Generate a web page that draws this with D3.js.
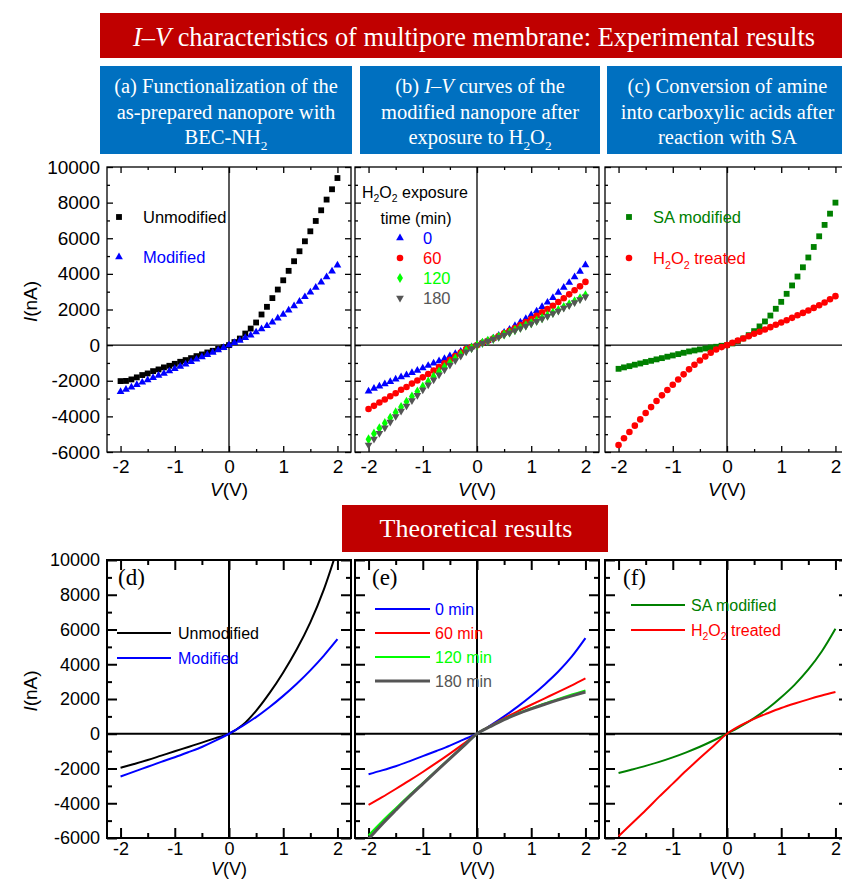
<!DOCTYPE html>
<html>
<head>
<meta charset="utf-8">
<script src="https://cdn.jsdelivr.net/npm/d3@7"></script>
<style>
  body { margin: 0; background: #fff; }
</style>
</head>
<body>
<div id="chart-area"></div>
<script>
// measured voltages (V)
const voltsExp = [-2, -1.9, -1.8, -1.7, -1.6, -1.5, -1.4, -1.3, -1.2, -1.1, -1, -0.9, -0.8, -0.7, -0.6, -0.5, -0.4, -0.3, -0.2, -0.1,
  0, 0.1, 0.2, 0.3, 0.4, 0.5, 0.6, 0.7, 0.8, 0.9, 1, 1.1, 1.2, 1.3, 1.4, 1.5, 1.6, 1.7, 1.8, 1.9, 2];
const voltsTheory = [-2, -1.75, -1.5, -1.25, -1, -0.75, -0.5, -0.25, 0, 0.25, 0.5, 0.75, 1, 1.25, 1.5, 1.75, 2];

// (a) experimental currents, nA
const aUnmodified = [-2020, -2010, -1925, -1810, -1680, -1590, -1460, -1365, -1250, -1160, -1050, -935, -840, -730, -617, -523, -411, -318, -205, -112,
  0, 170, 370, 650, 930, 1270, 1720, 2150, 2640, 3120, 3640, 4170, 4710, 5270, 5830, 6390, 6970, 7570, 8170, 8750, 9380];
const aModified = [-2620, -2490, -2360, -2220, -2090, -1960, -1830, -1700, -1590, -1460, -1330, -1200, -1070, -935, -800, -670, -540, -410, -280, -150,
  0, 130, 260, 410, 560, 730, 900, 1080, 1290, 1510, 1720, 1960, 2200, 2450, 2710, 2970, 3230, 3530, 3830, 4150, 4490];

// (b) after H2O2 exposure
const b0 = [-2590, -2440, -2310, -2180, -2050, -1920, -1790, -1680, -1550, -1430, -1290, -1150, -1020, -890, -760, -610, -480, -350, -220, -110,
  0, 130, 240, 390, 540, 710, 880, 1090, 1280, 1480, 1690, 1910, 2160, 2400, 2660, 2950, 3230, 3510, 3830, 4130, 4500];
const b60 = [-3590, -3410, -3220, -3050, -2870, -2700, -2510, -2350, -2160, -1990, -1810, -1620, -1430, -1230, -1020, -820, -610, -410, -220, -110,
  0, 130, 245, 375, 510, 660, 810, 960, 1130, 1290, 1460, 1650, 1840, 2030, 2210, 2420, 2630, 2850, 3080, 3300, 3550];
const b120 = [-5290, -4970, -4670, -4380, -4080, -3780, -3480, -3180, -2890, -2610, -2330, -2050, -1770, -1490, -1230, -990, -750, -520, -300, -150,
  0, 130, 244, 356, 470, 600, 710, 845, 975, 1110, 1240, 1370, 1520, 1670, 1820, 1970, 2140, 2290, 2460, 2630, 2800];
const b180 = [-5600, -5270, -4950, -4640, -4320, -4000, -3700, -3410, -3110, -2810, -2510, -2220, -1940, -1660, -1380, -1120, -860, -610, -370, -190,
  0, 120, 230, 345, 455, 575, 690, 815, 940, 1070, 1200, 1340, 1480, 1620, 1770, 1920, 2080, 2230, 2390, 2560, 2720];

// (c) SA conversion
const cSA = [-1330, -1250, -1180, -1100, -1030, -950, -880, -800, -730, -650, -580, -505, -430, -355, -300, -243, -187, -130, -93, -37,
  0, 93, 224, 374, 560, 785, 1050, 1330, 1660, 2040, 2430, 2880, 3350, 3850, 4370, 4920, 5510, 6110, 6750, 7380, 8000];
const cH2O2 = [-5610, -5230, -4880, -4520, -4170, -3810, -3480, -3140, -2820, -2520, -2220, -1930, -1640, -1360, -1100, -860, -636, -430, -243, -112,
  0, 131, 262, 374, 505, 635, 750, 880, 1010, 1140, 1270, 1400, 1530, 1680, 1810, 1940, 2090, 2240, 2390, 2580, 2750];

// (d)-(f) theoretical currents, nA
const dUnmodified = [-1960, -1740, -1510, -1260, -1010, -760, -510, -250, 0, 500, 1320, 2350, 3530, 4860, 6410, 8310, 10660];
const dModified = [-2460, -2180, -1900, -1620, -1350, -1060, -760, -400, 0, 450, 960, 1540, 2180, 2880, 3650, 4500, 5440];
const e0 = [-2330, -2110, -1870, -1590, -1290, -990, -680, -340, 0, 480, 1000, 1560, 2170, 2840, 3580, 4450, 5500];
const e60 = [-4100, -3650, -3180, -2700, -2200, -1680, -1140, -580, 0, 460, 890, 1290, 1670, 2040, 2410, 2790, 3190];
const e120 = [-5850, -5050, -4300, -3560, -2850, -2130, -1420, -710, 0, 430, 830, 1170, 1460, 1740, 2000, 2250, 2490];
const e180 = [-6050, -5200, -4400, -3620, -2880, -2150, -1430, -715, 0, 420, 810, 1140, 1430, 1700, 1950, 2180, 2400];
const fSA = [-2260, -2060, -1850, -1620, -1360, -1070, -750, -390, 0, 420, 900, 1450, 2100, 2830, 3700, 4750, 6040];
const fH2O2 = [-5900, -5150, -4400, -3620, -2870, -2120, -1400, -700, 0, 480, 860, 1180, 1480, 1740, 1980, 2200, 2400];

// ticks
const yMajor = [-6000, -4000, -2000, 0, 2000, 4000, 6000, 8000, 10000];
const yMinor = [-5000, -3000, -1000, 1000, 3000, 5000, 7000, 9000];
const xMajor = [-2, -1, 0, 1, 2];
const xMinor = [-1.5, -0.5, 0.5, 1.5];

// headings
const mainTitle = [{ t: 'I–V', i: true }, { t: ' characteristics of multipore membrane: Experimental results' }];
const theoryTitle = [{ t: 'Theoretical results' }];
const subtitles = [
  [[{ t: '(a) Functionalization of the' }], [{ t: 'as-prepared nanopore with' }], [{ t: 'BEC-NH' }, { t: '2', sub: true }]],
  [[{ t: '(b) ' }, { t: 'I–V', i: true }, { t: ' curves of the' }], [{ t: 'modified nanopore after' }], [{ t: 'exposure to H' }, { t: '2', sub: true }, { t: 'O' }, { t: '2', sub: true }]],
  [[{ t: '(c) Conversion of amine' }], [{ t: 'into carboxylic acids after' }], [{ t: 'reaction with SA' }]]
];

const SANS = '"Liberation Sans", Arial, sans-serif';
const SERIF = '"Liberation Serif", "Times New Roman", serif';

const svg = d3.select('#chart-area').append('svg')
  .attr('width', 842)
  .attr('height', 879);

function richText(sel, parts, size) {
  parts.forEach((p, k) => {
    const ts = sel.append('tspan').text(p.t);
    if (p.i) ts.attr('font-style', 'italic');
    if (p.sub) ts.attr('font-size', size * 0.65).attr('dy', size * 0.28);
    else if (k > 0 && parts[k - 1].sub) ts.attr('dy', -size * 0.28);
  });
  return sel;
}

// banners
svg.append('rect').attr('x', 100).attr('y', 13).attr('width', 742).attr('height', 45).attr('fill', '#c00000');
richText(svg.append('text')
  .attr('x', 474).attr('y', 46)
  .attr('text-anchor', 'middle')
  .attr('font-family', SERIF).attr('font-size', 27).attr('fill', '#fff')
  .attr('textLength', 682).attr('lengthAdjust', 'spacingAndGlyphs'), mainTitle, 27);

const subBoxes = [[100, 252], [360, 240], [607, 235]];
subBoxes.forEach((b, k) => {
  svg.append('rect').attr('x', b[0]).attr('y', 66).attr('width', b[1]).attr('height', 88).attr('fill', '#0070c0');
  subtitles[k].forEach((line, j) => {
    richText(svg.append('text')
      .attr('x', b[0] + b[1] / 2 + (k === 2 ? 3 : 0)).attr('y', 93 + j * 25.5)
      .attr('text-anchor', 'middle')
      .attr('font-family', SERIF).attr('font-size', 20.5).attr('fill', '#fff'), line, 20.5);
  });
});

svg.append('rect').attr('x', 342).attr('y', 505).attr('width', 266).attr('height', 47).attr('fill', '#c00000');
richText(svg.append('text')
  .attr('x', 476).attr('y', 537)
  .attr('text-anchor', 'middle')
  .attr('font-family', SERIF).attr('font-size', 26).attr('fill', '#fff'), theoryTitle, 26);

// panel layout
const plotW = 244;
const rows = [
  { top: 167, bottom: 452, sw: 1.3, major: 6, minor: 3, pad: 8, vLabel: 496, fs: 19 },
  { top: 560, bottom: 838, sw: 2, major: 10, minor: 5, pad: 4, vLabel: 875, fs: 18 }
];

const sym = {
  square: { type: d3.symbolSquare, size: 34, rot: 0 },
  triangle: { type: d3.symbolTriangle, size: 26, rot: 0 },
  triDown: { type: d3.symbolTriangle, size: 26, rot: 180 },
  circle: { type: d3.symbolCircle, size: 34, rot: 0 },
  diamond: { type: d3.symbolDiamond, size: 30, rot: 0 }
};

const panels = [
  { id: 'a', row: 0, left: 107, yLabels: true,
    series: [
      { v: aUnmodified, color: '#000', mark: 'square', name: [{ t: 'Unmodified' }] },
      { v: aModified, color: '#0000ff', mark: 'triangle', name: [{ t: 'Modified' }] }
    ],
    legend: { mx: 12, tx: 36, y0: 217, dy: 40 } },
  { id: 'b', row: 0, left: 355,
    series: [
      { v: b0, color: '#0000ff', mark: 'triangle', name: [{ t: '0' }] },
      { v: b60, color: '#ff0000', mark: 'circle', name: [{ t: '60' }] },
      { v: b120, color: '#00ff00', mark: 'diamond', name: [{ t: '120' }] },
      { v: b180, color: '#555555', mark: 'triDown', name: [{ t: '180' }] }
    ],
    legend: { mx: 45, tx: 68, y0: 238, dy: 20 } },
  { id: 'c', row: 0, left: 605,
    series: [
      { v: cSA, color: '#008000', mark: 'square', name: [{ t: 'SA modified' }] },
      { v: cH2O2, color: '#ff0000', mark: 'circle', name: [{ t: 'H' }, { t: '2', sub: true }, { t: 'O' }, { t: '2', sub: true }, { t: ' treated' }] }
    ],
    legend: { mx: 24, tx: 48, y0: 217, dy: 41 } },
  { id: 'd', row: 1, left: 107, yLabels: true, letter: '(d)', lx: 11,
    series: [
      { v: dUnmodified, color: '#000', w: 2, name: [{ t: 'Unmodified' }] },
      { v: dModified, color: '#0000ff', w: 2, name: [{ t: 'Modified' }] }
    ],
    legend: { l0: 10, l1: 64, tx: 71, y0: 633, dy: 25 } },
  { id: 'e', row: 1, left: 355, letter: '(e)', lx: 17,
    series: [
      { v: e0, color: '#0000ff', w: 2, name: [{ t: '0 min' }] },
      { v: e60, color: '#ff0000', w: 2, name: [{ t: '60 min' }] },
      { v: e120, color: '#00ff00', w: 2.2, name: [{ t: '120 min' }] },
      { v: e180, color: '#555555', w: 3, name: [{ t: '180 min' }] }
    ],
    legend: { l0: 20, l1: 75, tx: 80, y0: 609, dy: 24 } },
  { id: 'f', row: 1, left: 605, letter: '(f)', lx: 18,
    series: [
      { v: fSA, color: '#008000', w: 2, name: [{ t: 'SA modified' }] },
      { v: fH2O2, color: '#ff0000', w: 2, name: [{ t: 'H' }, { t: '2', sub: true }, { t: 'O' }, { t: '2', sub: true }, { t: ' treated' }] }
    ],
    legend: { l0: 26, l1: 80, tx: 86, y0: 605, dy: 25 } }
];

function styleAxis(g, sw, fs) {
  g.select('.domain').remove();
  g.selectAll('line').attr('stroke', '#000').attr('stroke-width', sw);
  g.selectAll('text').attr('font-family', SANS).attr('font-size', fs).attr('fill', '#000');
}

panels.forEach(p => {
  const r = rows[p.row];
  const x = d3.scaleLinear().domain([-2.25, 2.25]).range([p.left, p.left + plotW]);
  const y = d3.scaleLinear().domain([-6000, 10000]).range([r.bottom, r.top]);
  const g = svg.append('g');

  // ticks on all four sides, pointing inward
  const sides = [
    { axis: d3.axisBottom, pos: `translate(0,${r.bottom})`, s: x, maj: xMajor, min: xMinor, lab: true },
    { axis: d3.axisTop, pos: `translate(0,${r.top})`, s: x, maj: xMajor, min: xMinor, lab: false },
    { axis: d3.axisLeft, pos: `translate(${p.left},0)`, s: y, maj: yMajor, min: yMinor, lab: !!p.yLabels },
    { axis: d3.axisRight, pos: `translate(${p.left + plotW},0)`, s: y, maj: yMajor, min: yMinor, lab: false }
  ];
  sides.forEach(sd => {
    const major = sd.axis(sd.s).tickValues(sd.maj).tickSize(-r.major).tickPadding(sd.s === x ? r.pad : 7);
    major.tickFormat(sd.lab ? (d => String(d)) : '');
    g.append('g').attr('transform', sd.pos).call(major).call(a => styleAxis(a, r.sw, r.fs));
    const minor = sd.axis(sd.s).tickValues(sd.min).tickSize(-r.minor).tickFormat('');
    g.append('g').attr('transform', sd.pos).call(minor).call(a => styleAxis(a, r.sw, r.fs));
  });

  // frame and zero lines
  g.append('rect')
    .attr('x', x.range()[0]).attr('y', r.top)
    .attr('width', plotW).attr('height', r.bottom - r.top)
    .attr('fill', 'none').attr('stroke', '#000').attr('stroke-width', r.sw);
  g.append('line').attr('x1', x(0)).attr('x2', x(0)).attr('y1', r.top).attr('y2', r.bottom)
    .attr('stroke', '#000').attr('stroke-width', r.sw);
  g.append('line').attr('x1', x.range()[0]).attr('x2', x.range()[1]).attr('y1', y(0)).attr('y2', y(0))
    .attr('stroke', '#000').attr('stroke-width', r.sw);

  // x label
  g.append('text')
    .attr('x', x(0)).attr('y', r.vLabel)
    .attr('text-anchor', 'middle')
    .attr('font-family', SANS).attr('font-size', r.fs)
    .call(t => richText(t, [{ t: 'V', i: true }, { t: '(V)' }], r.fs));

  if (p.yLabels) {
    g.append('text')
      .attr('transform', `translate(37,${(r.top + r.bottom) / 2 - 8}) rotate(-90)`)
      .attr('text-anchor', 'middle')
      .attr('font-family', SANS).attr('font-size', 19)
      .call(t => richText(t, [{ t: 'I', i: true }, { t: '(nA)' }], 19));
  }

  if (p.letter) {
    g.append('text')
      .attr('x', p.left + p.lx).attr('y', r.top + 25)
      .attr('font-family', SERIF).attr('font-size', 23)
      .text(p.letter);
  }

  const clipId = 'clip-' + p.id;
  svg.append('clipPath').attr('id', clipId)
    .append('rect')
    .attr('x', x.range()[0]).attr('y', r.top)
    .attr('width', plotW).attr('height', r.bottom - r.top);
  const plot = g.append('g').attr('clip-path', `url(#${clipId})`);

  const lg = p.legend;
  if (p.row === 0) {
    // experimental: scatter markers
    p.series.forEach((s, k) => {
      const sm = sym[s.mark];
      const shape = d3.symbol().type(sm.type).size(sm.size);
      plot.selectAll(null)
        .data(s.v)
        .enter()
        .append('path')
        .attr('d', shape)
        .attr('transform', (val, i) => `translate(${x(voltsExp[i])},${y(val)}) rotate(${sm.rot})`)
        .attr('fill', s.color);

      const ly = lg.y0 + k * lg.dy;
      g.append('path')
        .attr('d', shape)
        .attr('transform', `translate(${p.left + lg.mx},${ly}) rotate(${sm.rot})`)
        .attr('fill', s.color);
      g.append('text')
        .attr('x', p.left + lg.tx).attr('y', ly + 6)
        .attr('font-family', SANS).attr('font-size', 16.5).attr('fill', s.color)
        .call(t => richText(t, s.name, 16.5));
    });
  } else {
    // theory: curves
    const line = d3.line()
      .x((val, i) => x(voltsTheory[i]))
      .y(val => y(val))
      .curve(d3.curveCatmullRom);
    p.series.forEach((s, k) => {
      plot.append('path')
        .attr('d', line(s.v))
        .attr('fill', 'none')
        .attr('stroke', s.color)
        .attr('stroke-width', s.w);

      const ly = lg.y0 + k * lg.dy;
      g.append('line')
        .attr('x1', p.left + lg.l0).attr('x2', p.left + lg.l1)
        .attr('y1', ly).attr('y2', ly)
        .attr('stroke', s.color).attr('stroke-width', s.w);
      g.append('text')
        .attr('x', p.left + lg.tx).attr('y', ly + 6)
        .attr('font-family', SANS).attr('font-size', 16).attr('fill', s.color)
        .call(t => richText(t, s.name, 16));
    });
  }

  // (b) legend heading
  if (p.id === 'b') {
    g.append('text')
      .attr('x', p.left + 7).attr('y', 198)
      .attr('font-family', SANS).attr('font-size', 16).attr('fill', '#000')
      .call(t => richText(t, [{ t: 'H' }, { t: '2', sub: true }, { t: 'O' }, { t: '2', sub: true }, { t: ' exposure' }], 16));
    g.append('text')
      .attr('x', p.left + 61).attr('y', 224)
      .attr('text-anchor', 'middle')
      .attr('font-family', SANS).attr('font-size', 16).attr('fill', '#000')
      .text('time (min)');
  }
});
</script>
</body>
</html>
